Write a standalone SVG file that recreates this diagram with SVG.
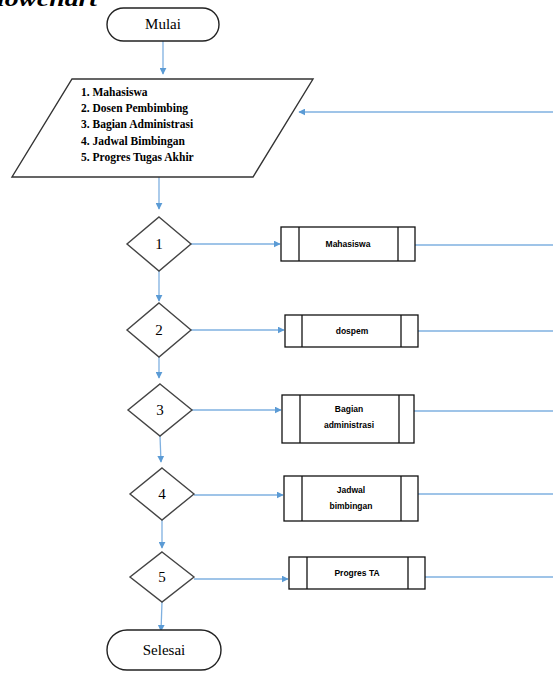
<svg xmlns="http://www.w3.org/2000/svg" width="553" height="673" viewBox="0 0 553 673">
<defs>
<marker id="ah" viewBox="0 0 10 10" refX="9" refY="5" markerWidth="7" markerHeight="7" markerUnits="userSpaceOnUse" orient="auto">
<path d="M0,0 L10,5 L0,10 z" fill="#5b9bd5"/>
</marker>
<style>
.term{fill:#fff;stroke:#222;stroke-width:1.4}
.io{fill:#fff;stroke:#333;stroke-width:1.4}
.dec{fill:#fff;stroke:#444;stroke-width:1.4}
.proc{fill:#fff;stroke:#111;stroke-width:1.3}
.con{fill:none;stroke:#7fb0e0;stroke-width:1.3}
.arr{marker-end:url(#ah)}
.t{font-family:"Liberation Serif","Times New Roman",serif;fill:#000}
.big{font-size:15px;text-anchor:middle}
.list{font-size:11.5px;font-weight:bold}
.num{font-size:15px;text-anchor:middle}
.small{font-family:"Liberation Sans",Arial,sans-serif;font-size:8.5px;font-weight:bold;text-anchor:middle;fill:#000}
</style>
</defs>
<rect width="553" height="673" fill="#fff"/>
<text class="t" x="-3" y="6" font-size="22" font-style="italic" font-weight="bold" textLength="100" lengthAdjust="spacingAndGlyphs">lowchart</text>
<g id="connectors">
<line class="con arr" x1="163" y1="41" x2="163" y2="74"/>
<line class="con arr" x1="553" y1="112" x2="299" y2="112"/>
<line class="con arr" x1="159" y1="177" x2="159" y2="209"/>
<line class="con arr" x1="159" y1="271" x2="159" y2="301"/>
<line class="con arr" x1="159" y1="357" x2="159" y2="378"/>
<line class="con arr" x1="160" y1="436" x2="161" y2="462"/>
<line class="con arr" x1="162" y1="520" x2="162" y2="548"/>
<line class="con arr" x1="162" y1="602" x2="161" y2="631"/>
<line class="con arr" x1="191" y1="244" x2="280" y2="244"/>
<line class="con arr" x1="191" y1="330" x2="284" y2="330"/>
<line class="con arr" x1="192" y1="410" x2="281" y2="410"/>
<line class="con arr" x1="194" y1="495" x2="283" y2="495"/>
<line class="con arr" x1="194" y1="579" x2="288" y2="579"/>
<line class="con" x1="415" y1="245" x2="553" y2="245"/>
<line class="con" x1="418" y1="331" x2="553" y2="331"/>
<line class="con" x1="414" y1="411" x2="553" y2="411"/>
<line class="con" x1="418" y1="494" x2="553" y2="494"/>
<line class="con" x1="425" y1="577" x2="553" y2="577"/>
</g>
<g id="mulai">
<rect class="term" x="107" y="8" width="112" height="33" rx="16.5"/>
<text class="t big" x="163" y="29">Mulai</text>
</g>
<g id="input">
<polygon class="io" points="72,79 313,79 253,177 12,177"/>
<text class="t list" x="81" y="96">1. Mahasiswa</text>
<text class="t list" x="81" y="112">2. Dosen Pembimbing</text>
<text class="t list" x="81" y="128">3. Bagian Administrasi</text>
<text class="t list" x="81" y="145">4. Jadwal Bimbingan</text>
<text class="t list" x="81" y="161">5. Progres Tugas Akhir</text>
</g>
<g id="d1">
<polygon class="dec" points="159,217 191,244 159,271 127,244"/>
<text class="t num" x="159" y="249">1</text>
</g>
<g id="d2">
<polygon class="dec" points="159,303 191,330 159,357 127,330"/>
<text class="t num" x="159" y="335">2</text>
</g>
<g id="d3">
<polygon class="dec" points="160,384 192,410 160,436 128,410"/>
<text class="t num" x="160" y="415">3</text>
</g>
<g id="d4">
<polygon class="dec" points="162,468 194,494 162,520 130,494"/>
<text class="t num" x="162" y="499">4</text>
</g>
<g id="d5">
<polygon class="dec" points="162,552 194,577 162,602 130,577"/>
<text class="t num" x="162" y="582">5</text>
</g>
<g id="p1">
<rect class="proc" x="281" y="227" width="134" height="34"/>
<line class="proc" x1="299" y1="227" x2="299" y2="261"/>
<line class="proc" x1="398" y1="227" x2="398" y2="261"/>
<text class="small" x="348" y="247">Mahasiswa</text>
</g>
<g id="p2">
<rect class="proc" x="285" y="315" width="133" height="32"/>
<line class="proc" x1="302" y1="315" x2="302" y2="347"/>
<line class="proc" x1="401" y1="315" x2="401" y2="347"/>
<text class="small" x="352" y="334">dospem</text>
</g>
<g id="p3">
<rect class="proc" x="282" y="395" width="132" height="48"/>
<line class="proc" x1="300" y1="395" x2="300" y2="443"/>
<line class="proc" x1="399" y1="395" x2="399" y2="443"/>
<text class="small" x="349" y="412">Bagian</text>
<text class="small" x="349" y="428">administrasi</text>
</g>
<g id="p4">
<rect class="proc" x="284" y="476" width="134" height="45"/>
<line class="proc" x1="302" y1="476" x2="302" y2="521"/>
<line class="proc" x1="401" y1="476" x2="401" y2="521"/>
<text class="small" x="351" y="493">Jadwal</text>
<text class="small" x="351" y="509">bimbingan</text>
</g>
<g id="p5">
<rect class="proc" x="289" y="557" width="136" height="32"/>
<line class="proc" x1="307" y1="557" x2="307" y2="589"/>
<line class="proc" x1="408" y1="557" x2="408" y2="589"/>
<text class="small" x="357" y="576">Progres TA</text>
</g>
<g id="selesai">
<rect class="term" x="107" y="630" width="114" height="40" rx="20"/>
<text class="t big" x="164" y="655">Selesai</text>
</g>
</svg>
